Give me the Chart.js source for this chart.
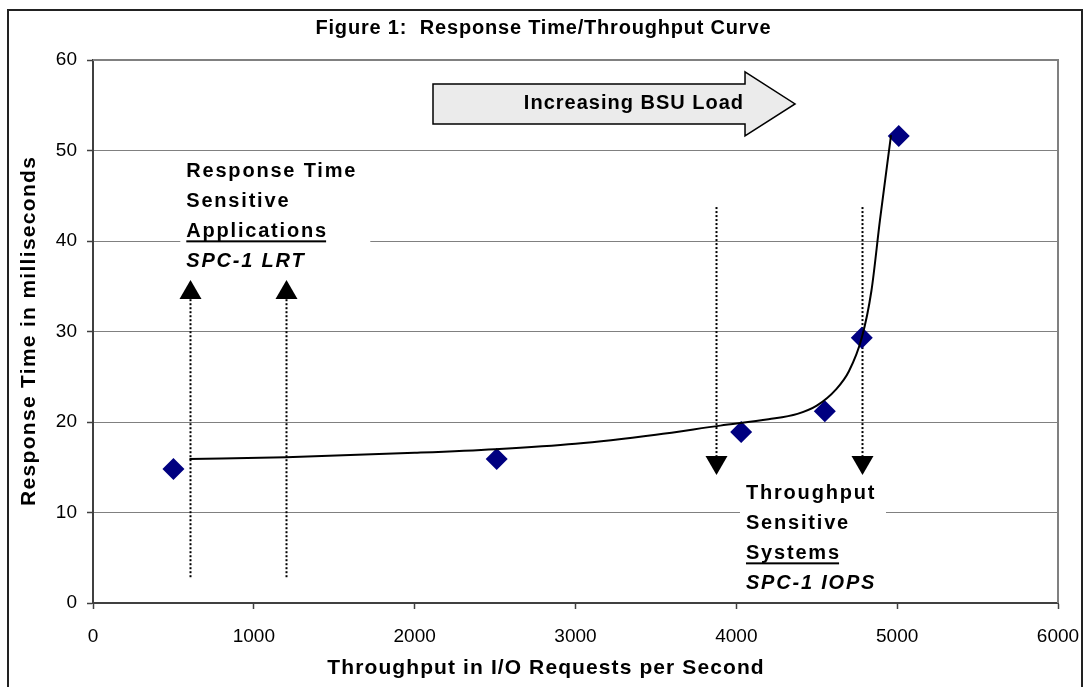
<!DOCTYPE html>
<html>
<head>
<meta charset="utf-8">
<title>Figure 1: Response Time/Throughput Curve</title>
<script src="https://cdn.jsdelivr.net/npm/chart.js@4/dist/chart.umd.min.js"></script>
<style>
  html, body { margin: 0; padding: 0; background: #ffffff; }
  canvas { display: block; }
</style>
</head>
<body>
<canvas id="chart" width="1085" height="687"></canvas>
<script>
// Measured load points (I/O requests per second vs. response time in ms)
const throughput = [500, 2510, 4030, 4550, 4780, 5010];
const responseMs = [14.8, 15.9, 18.9, 21.2, 29.3, 51.6];

// Fitted response-time curve
const curveX = [600, 1200, 2000, 2500, 3000, 3500, 3900, 4200, 4380, 4500, 4620, 4700, 4780, 4840, 4893, 4962];
const curveY = [15.9, 16.1, 16.6, 17.0, 17.6, 18.6, 19.6, 20.3, 20.9, 21.8, 23.6, 25.6, 29.3, 34.5, 42.3, 51.7];

// Axis tick values
const xTicks = [0, 1000, 2000, 3000, 4000, 5000, 6000];
const yTicks = [0, 10, 20, 30, 40, 50, 60];

// Chart and axis titles
const chartTitle = 'Figure 1:  Response Time/Throughput Curve';
const xTitle = 'Throughput in I/O Requests per Second';
const yTitle = 'Response Time in milliseconds';

const FONT = "'Liberation Sans', Arial, Helvetica, sans-serif";

// Callout geometry (data units for anchors)
const callouts = {
  upArrows: [603, 1200],
  upFrom: 2.85, upBase: 33.6, upTip: 35.7,
  downArrows: [3874, 4781],
  downFrom: 43.75, downBase: 16.25, downTip: 14.15,
  leftBlock: { x: 580, y: 47.63, box: [-6, -17, 190, 102],
    lines: [['Response Time', ''], ['Sensitive', ''], ['Applications', 'u'], ['SPC-1 LRT', 'i']] },
  rightBlock: { x: 4060, y: 12.05, box: [-6, -14, 146, 106],
    lines: [['Throughput', ''], ['Sensitive', ''], ['Systems', 'u'], ['SPC-1 IOPS', 'i']] },
  load: { x0: 2114, x1: 4054, tip: 4365, yMid: 55.15, bodyHalf: 20, headHalf: 32, text: 'Increasing BSU Load' }
};

function spacedText(ctx, text, x, y, font, spacing, align, rotation) {
  ctx.save();
  ctx.font = font;
  ctx.letterSpacing = spacing + 'px';
  ctx.fillStyle = '#000000';
  ctx.textBaseline = 'middle';
  ctx.translate(x, y);
  if (rotation) ctx.rotate(rotation);
  const w = ctx.measureText(text).width - spacing;
  const sx = align === 'center' ? -w / 2 : (align === 'right' ? -w : 0);
  ctx.textAlign = 'left';
  ctx.fillText(text, sx, 0);
  ctx.restore();
  return w;
}

const framePlugin = {
  id: 'frame',
  beforeDatasetsDraw(chart) {
    const { ctx, chartArea: a, scales: { x, y } } = chart;
    ctx.save();
    // plot frame: top and right edges
    ctx.strokeStyle = '#808080';
    ctx.lineWidth = 2;
    ctx.beginPath();
    ctx.moveTo(a.left, a.top);
    ctx.lineTo(a.right, a.top);
    ctx.lineTo(a.right, a.bottom);
    ctx.stroke();

    // text blocks with white backing
    const drawBlock = (b) => {
      const bx = x.getPixelForValue(b.x), by = y.getPixelForValue(b.y);
      ctx.fillStyle = '#ffffff';
      ctx.fillRect(bx + b.box[0], by + b.box[1], b.box[2], b.box[3]);
      b.lines.forEach(([t, style], i) => {
        const ly = by + i * 29.7;
        const font = (style === 'i' ? 'italic ' : '') + 'bold 20px ' + FONT;
        const w = spacedText(ctx, t, bx, ly, font, 1.8, 'left');
        if (style === 'u') {
          ctx.fillStyle = '#000000';
          ctx.fillRect(bx, ly + 9, w, 2);
        }
      });
    };
    drawBlock(callouts.leftBlock);
    drawBlock(callouts.rightBlock);

    // dotted arrows
    const dotted = (px, yFrom, yBase, yTip) => {
      const p0 = y.getPixelForValue(yFrom), pb = y.getPixelForValue(yBase), pt = y.getPixelForValue(yTip);
      ctx.strokeStyle = '#000000';
      ctx.lineWidth = 2;
      ctx.setLineDash([2, 2]);
      ctx.beginPath();
      ctx.moveTo(px, p0);
      ctx.lineTo(px, pb);
      ctx.stroke();
      ctx.setLineDash([]);
      ctx.fillStyle = '#000000';
      ctx.beginPath();
      ctx.moveTo(px - 11, pb);
      ctx.lineTo(px + 11, pb);
      ctx.lineTo(px, pt);
      ctx.closePath();
      ctx.fill();
    };
    callouts.upArrows.forEach(v => dotted(Math.round(x.getPixelForValue(v)) + 0.5, callouts.upFrom, callouts.upBase, callouts.upTip));
    callouts.downArrows.forEach(v => dotted(Math.round(x.getPixelForValue(v)) + 0.5, callouts.downFrom, callouts.downBase, callouts.downTip));

    // block arrow
    const L = callouts.load;
    const x0 = x.getPixelForValue(L.x0), x1 = x.getPixelForValue(L.x1), xt = x.getPixelForValue(L.tip);
    const ym = y.getPixelForValue(L.yMid);
    ctx.beginPath();
    ctx.moveTo(x0, ym - L.bodyHalf);
    ctx.lineTo(x1, ym - L.bodyHalf);
    ctx.lineTo(x1, ym - L.headHalf);
    ctx.lineTo(xt, ym);
    ctx.lineTo(x1, ym + L.headHalf);
    ctx.lineTo(x1, ym + L.bodyHalf);
    ctx.lineTo(x0, ym + L.bodyHalf);
    ctx.closePath();
    ctx.fillStyle = '#ebebeb';
    ctx.fill();
    ctx.strokeStyle = '#000000';
    ctx.lineWidth = 1.5;
    ctx.stroke();
    spacedText(ctx, L.text, x1 - 2, ym, 'bold 20px ' + FONT, 1, 'right');
    ctx.restore();
  },
  afterDraw(chart) {
    const { ctx, chartArea: a } = chart;
    ctx.save();
    // titles
    spacedText(ctx, chartTitle, 543, 28, 'bold 20px ' + FONT, 0.8, 'center');
    spacedText(ctx, xTitle, (a.left + a.right) / 2 - 30, 668, 'bold 21px ' + FONT, 1.1, 'center');
    spacedText(ctx, yTitle, 29, (a.top + a.bottom) / 2, 'bold 21px ' + FONT, 1.3, 'center', -Math.PI / 2);
    // outer frame
    ctx.strokeStyle = '#222222';
    ctx.lineWidth = 2;
    ctx.strokeRect(8, 10, 1074, 700);
    ctx.restore();
  }
};

new Chart(document.getElementById('chart'), {
  type: 'scatter',
  data: {
    datasets: [
      {
        label: 'Response time',
        data: throughput.map((v, i) => ({ x: v, y: responseMs[i] })),
        pointStyle: 'rectRot',
        pointRadius: 11,
        pointHoverRadius: 11,
        backgroundColor: '#000080',
        borderColor: '#000080',
        borderWidth: 0,
        order: 2
      },
      {
        label: 'Curve',
        type: 'line',
        data: curveX.map((v, i) => ({ x: v, y: curveY[i] })),
        borderColor: '#000000',
        borderWidth: 2,
        pointRadius: 0,
        fill: false,
        cubicInterpolationMode: 'monotone',
        order: 1
      }
    ]
  },
  options: {
    responsive: false,
    devicePixelRatio: 1,
    animation: false,
    layout: { padding: { left: 0, right: 27, top: 60, bottom: 0 } },
    plugins: {
      legend: { display: false },
      tooltip: { enabled: false },
      title: { display: false }
    },
    scales: {
      x: {
        type: 'linear',
        min: 0, max: 6000,
        afterBuildTicks: s => { s.ticks = xTicks.map(v => ({ value: v })); },
        afterFit: s => { s.height = 84; s.paddingLeft = 0; s.paddingRight = 0; },
        ticks: { color: '#000000', font: { family: FONT, size: 19 }, padding: 16, maxRotation: 0, autoSkip: false,
                 callback: v => String(v) },
        grid: { drawOnChartArea: false, drawTicks: true, tickLength: 6, tickColor: '#404040', tickWidth: 1.5 },
        border: { color: '#404040', width: 2 }
      },
      y: {
        min: 0, max: 60,
        afterBuildTicks: s => { s.ticks = yTicks.map(v => ({ value: v })); },
        afterFit: s => { s.width = 93; s.paddingTop = 0; s.paddingBottom = 0; },
        ticks: { color: '#000000', font: { family: FONT, size: 19 }, padding: 10, callback: v => String(v) },
        grid: { color: '#808080', lineWidth: 1, drawTicks: true, tickLength: 6, tickColor: '#404040', tickWidth: 1.5 },
        border: { color: '#404040', width: 2 }
      }
    }
  },
  plugins: [framePlugin]
});
</script>
</body>
</html>
